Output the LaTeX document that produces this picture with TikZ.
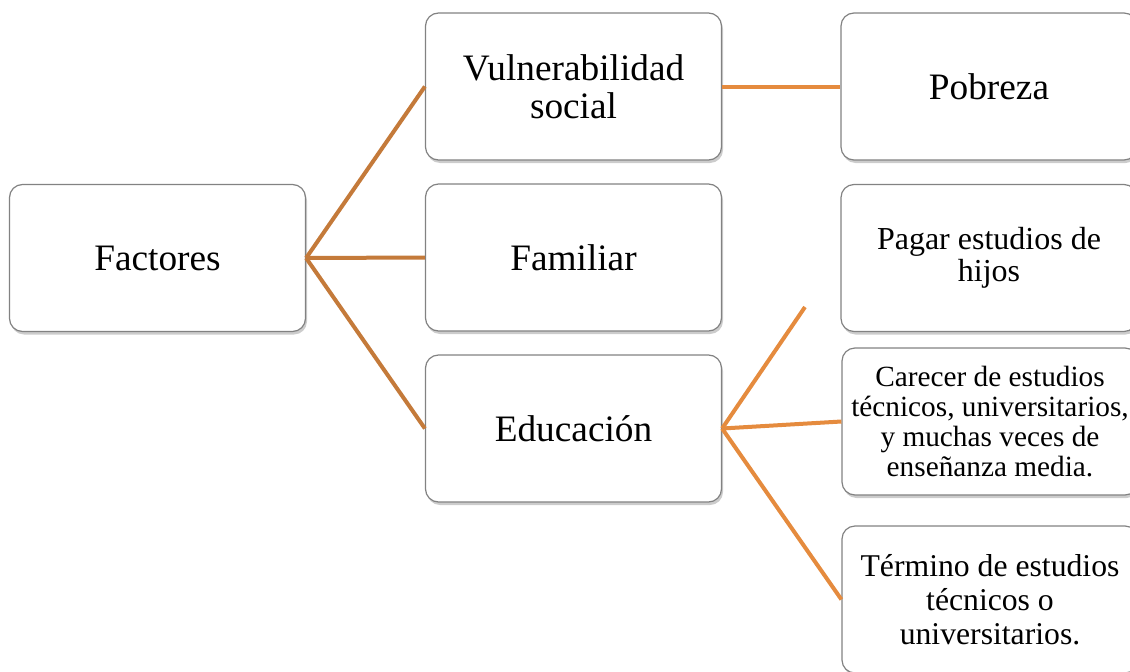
\documentclass[tikz,border=0pt]{standalone}
\usepackage{fontspec}
\setmainfont{Liberation Serif}
\usetikzlibrary{shadows}
\definecolor{cafe}{RGB}{196,122,58}
\definecolor{naranja}{RGB}{229,139,62}
\definecolor{borde}{RGB}{130,130,130}

\begin{document}
\begin{tikzpicture}[x=1pt,y=-1pt,
    caja/.style={draw=borde, line width=1.2pt, rounded corners=13pt, fill=white,
        minimum width=296pt, minimum height=147pt, align=center, inner sep=0pt,
        drop shadow={opacity=0.4, shadow xshift=1.5pt, shadow yshift=-3pt}},
    grande/.style={font=\fontsize{37.3}{38}\selectfont},
    media/.style={font=\fontsize{32}{32.5}\selectfont},
    chica/.style={font=\fontsize{29.3}{30.3}\selectfont},
    rama/.style={line width=4pt}]
    \useasboundingbox (0,0) rectangle (1130,672);

    \node[caja, grande] (factores) at (157.5,258) {Factores};
    \node[caja, grande] (vulner) at (573.5,86.5) {Vulnerabilidad\\social};
    \node[caja, grande] (familiar) at (573.5,257.5) {Familiar};
    \node[caja, grande] (edu) at (573.5,428.5) {Educación};
    \node[caja, grande] (pobreza) at (989,86.5) {Pobreza};
    \node[caja, media] (pagar) at (989,258) {Pagar estudios de\\hijos};
    \node[caja, chica] (carecer) at (990,421.5) {Carecer de estudios\\técnicos, universitarios,\\y muchas veces de\\enseñanza media.};
    \node[caja, font=\fontsize{31.7}{34}\selectfont] (termino) at (990,599.5) {Término de estudios\\técnicos o\\universitarios.};
    \coordinate (pagarfin) at (805,307);

    \draw[rama, color=cafe] (factores.east) -- (vulner.west);
    \draw[rama, color=cafe] (factores.east) -- (familiar.west);
    \draw[rama, color=cafe] (factores.east) -- (edu.west);
    \draw[rama, color=naranja] (vulner.east) -- (pobreza.west);
    \draw[rama, color=naranja] (edu.east) -- (pagarfin);
    \draw[rama, color=naranja] (edu.east) -- (carecer.west);
    \draw[rama, color=naranja] (edu.east) -- (termino.west);

\end{tikzpicture}
\end{document}
